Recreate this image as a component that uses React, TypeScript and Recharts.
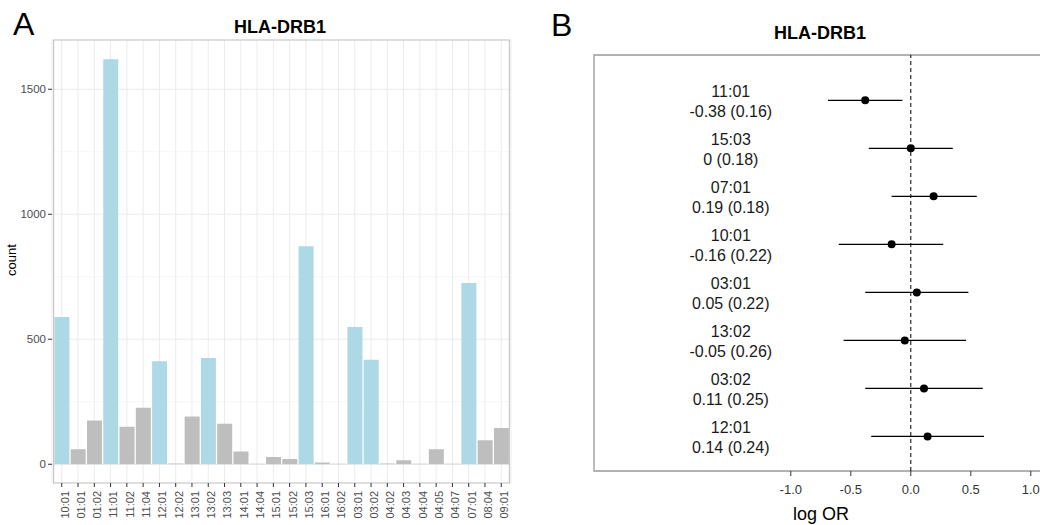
import React from 'react';
import {
  BarChart,
  Bar,
  XAxis,
  YAxis,
  CartesianGrid,
  Cell,
  ReferenceArea,
  ScatterChart,
  Scatter,
  ErrorBar,
  ReferenceLine,
} from 'recharts';

// ---------- Panel A data ----------
const alleles = [
  '10:01', '01:01', '01:02', '11:01', '11:02', '11:04', '12:01', '12:02', '13:01', '13:02',
  '13:03', '14:01', '14:04', '15:01', '15:02', '15:03', '16:01', '16:02', '03:01', '03:02',
  '04:02', '04:03', '04:04', '04:05', '04:07', '07:01', '08:04', '09:01',
];
const counts = [
  589, 60, 175, 1620, 150, 226, 412, 3, 191, 425,
  162, 51, 2, 29, 21, 872, 7, 2, 549, 418,
  3, 16, 2, 60, 2, 725, 96, 145,
];
const countTicks = [0, 500, 1000, 1500];
const countMinorTicks = [250, 750, 1250];

// ---------- Panel B data ----------
const forestAlleles = ['11:01', '15:03', '07:01', '10:01', '03:01', '13:02', '03:02', '12:01'];
const logOR = [-0.38, 0, 0.19, -0.16, 0.05, -0.05, 0.11, 0.14];
const stdErr = [0.16, 0.18, 0.18, 0.22, 0.22, 0.26, 0.25, 0.24];
const ciLow = [-0.69, -0.35, -0.16, -0.6, -0.38, -0.56, -0.38, -0.33];
const ciHigh = [-0.07, 0.35, 0.55, 0.27, 0.48, 0.46, 0.6, 0.61];
const logOrTicks = [-1, -0.5, 0, 0.5, 1];

const barData = alleles.map((a, i) => ({
  allele: a,
  count: counts[i],
  tested: forestAlleles.includes(a),
}));

const forestData = forestAlleles.map((a, i) => ({
  row: i + 1,
  allele: a,
  est: logOR[i],
  err: [logOR[i] - ciLow[i], ciHigh[i] - logOR[i]],
}));

// text column drawn at a fixed log-OR position (as geom_text would)
const LABEL_X = -1.5;
const labelData = forestAlleles.map((a, i) => ({
  row: i + 1,
  est: LABEL_X,
  allele: a,
  text: `${logOR[i]} (${stdErr[i]})`,
}));

const FONT = "'Liberation Sans', Arial, Helvetica, sans-serif";
const A_DOMAIN: [number, number] = [-75, 1697];
const B_XDOMAIN: [number, number] = [-2.64, 1.26];
const B_YDOMAIN: [number, number] = [0.056, 8.72];

const RotTick = (props: any) => {
  const { x, y, payload } = props;
  return (
    <text
      transform={`translate(${x},${y}) rotate(-90)`}
      textAnchor="end"
      dy={6.9}
      fontSize={11}
      fill="#4d4d4d"
      fontFamily={FONT}
    >
      {payload.value}
    </text>
  );
};

const LabelShape = (props: any) => {
  const { cx, cy, payload } = props;
  if (cx == null || cy == null || !payload) return <g />;
  return (
    <text textAnchor="middle" fontSize={16} fill="#1a1a1a" fontFamily={FONT}>
      <tspan x={cx} y={cy - 3}>
        {payload.allele}
      </tspan>
      <tspan x={cx} y={cy + 17}>
        {payload.text}
      </tspan>
    </text>
  );
};

const Dot = (props: any) => <circle cx={props.cx} cy={props.cy} r={4} fill="#000" />;

export default function App() {
  return (
    <div
      style={{
        position: 'absolute',
        left: 0,
        top: 0,
        width: 1040,
        height: 525,
        overflow: 'hidden',
        background: '#fff',
        fontFamily: FONT,
      }}
    >
      <div style={{ position: 'absolute', left: 0, top: 0 }}>
        <BarChart
          width={520}
          height={525}
          data={barData}
          margin={{ top: 40, right: 9, bottom: 0, left: 0 }}
          barCategoryGap="5%"
        >
          <CartesianGrid
            stroke="#f0f0f0"
            strokeWidth={0.6}
            vertical={false}
            horizontalValues={countMinorTicks}
          />
          <CartesianGrid stroke="#ebebeb" strokeWidth={1} />
          <XAxis
            dataKey="allele"
            type="category"
            interval={0}
            height={42}
            padding={{ left: 1.6, right: 1.6 }}
            tickSize={4}
            tickMargin={4}
            axisLine={false}
            tickLine={{ stroke: '#333' }}
            tick={<RotTick />}
          />
          <YAxis
            type="number"
            domain={A_DOMAIN}
            ticks={countTicks}
            width={52}
            axisLine={false}
            tickSize={4}
            tickMargin={2}
            tickLine={{ stroke: '#333' }}
            tick={{ fontSize: 11.5, fill: '#4d4d4d', fontFamily: FONT }}
            interval={0}
            allowDataOverflow
          />
          <Bar dataKey="count" isAnimationActive={false}>
            {barData.map((d, i) => (
              <Cell key={i} fill={d.tested ? '#add8e6' : '#bebebe'} />
            ))}
          </Bar>
          <ReferenceArea
            y1={A_DOMAIN[0]}
            y2={A_DOMAIN[1]}
            fill="none"
            stroke="#c8c8c8"
            strokeWidth={1.2}
            ifOverflow="visible"
          />
        </BarChart>
      </div>

      <div style={{ position: 'absolute', left: 560, top: 0 }}>
        <ScatterChart width={520} height={525} margin={{ top: 55, right: 18, bottom: 0, left: 34 }}>
          <XAxis
            type="number"
            dataKey="est"
            domain={B_XDOMAIN}
            ticks={logOrTicks}
            tickFormatter={(v: number) => v.toFixed(1)}
            height={54}
            axisLine={false}
            tickSize={5}
            tickMargin={9}
            tickLine={{ stroke: '#333' }}
            tick={{ fontSize: 13, fill: '#333', fontFamily: FONT }}
            interval={0}
            allowDataOverflow
          />
          <YAxis
            type="number"
            dataKey="row"
            domain={B_YDOMAIN}
            reversed
            width={0}
            hide
            allowDataOverflow
          />
          <ReferenceArea
            x1={B_XDOMAIN[0]}
            x2={B_XDOMAIN[1]}
            y1={B_YDOMAIN[0]}
            y2={B_YDOMAIN[1]}
            fill="none"
            stroke="#999"
            strokeWidth={1.3}
            ifOverflow="visible"
          />
          <ReferenceLine x={0} stroke="#000" strokeDasharray="4 3" ifOverflow="visible" />
          <Scatter data={labelData} isAnimationActive={false} shape={<LabelShape />} />
          <Scatter data={forestData} isAnimationActive={false} shape={<Dot />}>
            <ErrorBar
              dataKey="err"
              direction="x"
              width={0}
              stroke="#000"
              strokeWidth={1.3}
              isAnimationActive={false}
            />
          </Scatter>
        </ScatterChart>
      </div>

      <svg
        width={1040}
        height={525}
        style={{ position: 'absolute', left: 0, top: 0, pointerEvents: 'none' }}
      >
        <text x={13} y={35} fontSize={32} fontFamily={FONT} fill="#000">
          A
        </text>
        <text x={551} y={36} fontSize={32} fontFamily={FONT} fill="#000">
          B
        </text>
        <text x={280} y={32.5} textAnchor="middle" fontSize={18} fontWeight="bold" fontFamily={FONT} fill="#000">
          HLA-DRB1
        </text>
        <text x={820} y={39} textAnchor="middle" fontSize={18} fontWeight="bold" fontFamily={FONT} fill="#000">
          HLA-DRB1
        </text>
        <text transform="translate(16,260) rotate(-90)" textAnchor="middle" fontSize={13} fontFamily={FONT} fill="#000">
          count
        </text>
        <text x={821} y={520.4} textAnchor="middle" fontSize={18} fontFamily={FONT} fill="#000">
          log OR
        </text>
      </svg>
    </div>
  );
}
